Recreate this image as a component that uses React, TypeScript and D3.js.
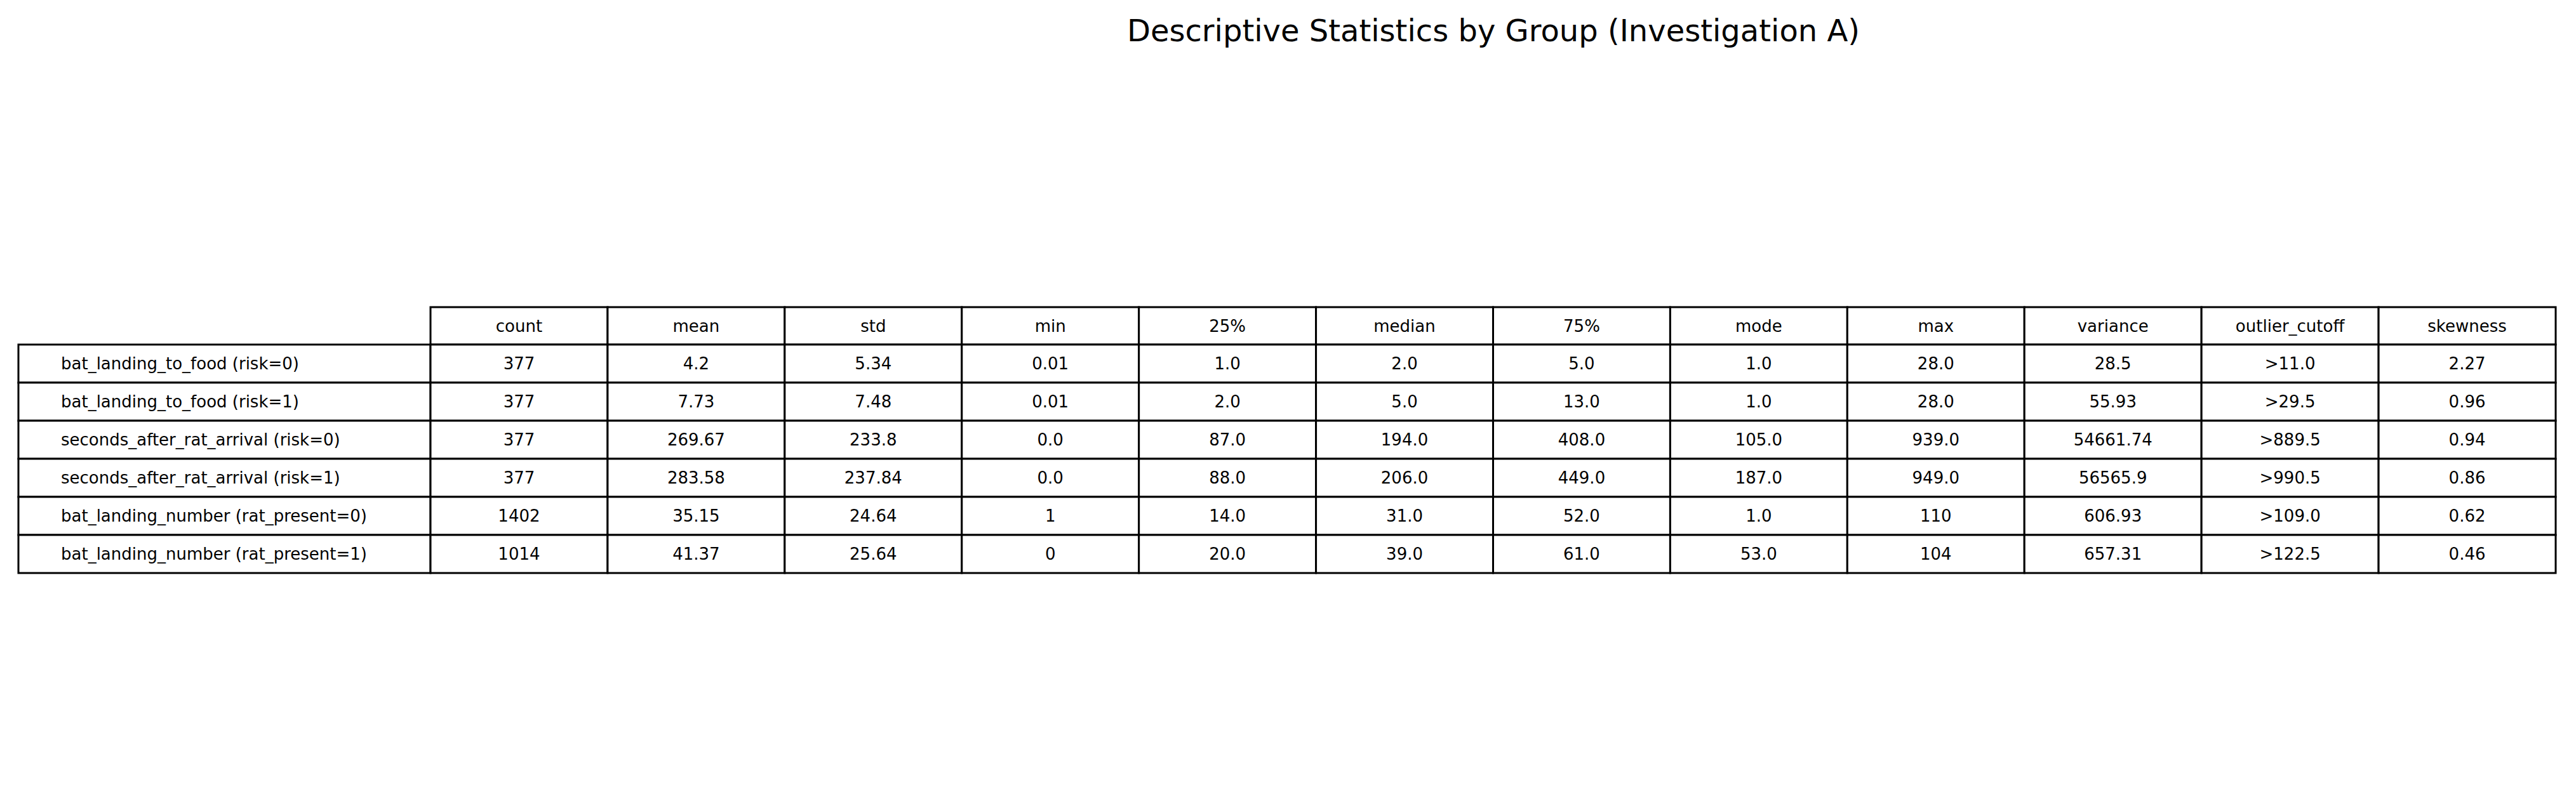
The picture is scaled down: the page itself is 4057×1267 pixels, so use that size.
import React from "react";
import * as d3 from "d3";

const columns = ["count","mean","std","min","25%","median","75%","mode","max","variance","outlier_cutoff","skewness"];
const rowLabels = [
  "bat_landing_to_food (risk=0)",
  "bat_landing_to_food (risk=1)",
  "seconds_after_rat_arrival (risk=0)",
  "seconds_after_rat_arrival (risk=1)",
  "bat_landing_number (rat_present=0)",
  "bat_landing_number (rat_present=1)",
];
const row0 = ["377","4.2","5.34","0.01","1.0","2.0","5.0","1.0","28.0","28.5",">11.0","2.27"];
const row1 = ["377","7.73","7.48","0.01","2.0","5.0","13.0","1.0","28.0","55.93",">29.5","0.96"];
const row2 = ["377","269.67","233.8","0.0","87.0","194.0","408.0","105.0","939.0","54661.74",">889.5","0.94"];
const row3 = ["377","283.58","237.84","0.0","88.0","206.0","449.0","187.0","949.0","56565.9",">990.5","0.86"];
const row4 = ["1402","35.15","24.64","1","14.0","31.0","52.0","1.0","110","606.93",">109.0","0.62"];
const row5 = ["1014","41.37","25.64","0","20.0","39.0","61.0","53.0","104","657.31",">122.5","0.46"];
const cells = [row0,row1,row2,row3,row4,row5];

const W = 4057, H = 1267;
const labelX0 = 29, colX0 = 678, colX1 = 4025;
const headerTop = 484, rowTop = 543, rowBottom = 903;

export default function App() {
  const x = d3.scaleBand<number>().domain(d3.range(columns.length)).range([colX0, colX1]);
  const y = d3.scaleBand<number>().domain(d3.range(rowLabels.length)).range([rowTop, rowBottom]);
  const hh = rowTop - headerTop;
  const font = "DejaVu Sans, sans-serif";
  const fs = 26;
  const sw = 3;
  return (
    <svg width={W} height={H} style={{ position: "absolute", left: 0, top: 0, background: "#fff" }} fontFamily={font}>
      <rect width={W} height={H} fill="#fff" />
      <text x={2352} y={65} textAnchor="middle" fontSize={48}>Descriptive Statistics by Group (Investigation A)</text>
      {columns.map((c, j) => (
        <g key={c}>
          <rect x={x(j)} y={headerTop} width={x.bandwidth()} height={hh} fill="#fff" stroke="#000" strokeWidth={sw} />
          <text x={x(j)! + x.bandwidth() / 2} y={headerTop + hh / 2} dy="0.35em" textAnchor="middle" fontSize={fs}>{c}</text>
        </g>
      ))}
      {rowLabels.map((r, i) => (
        <g key={r}>
          <rect x={labelX0} y={y(i)} width={colX0 - labelX0} height={y.bandwidth()} fill="#fff" stroke="#000" strokeWidth={sw} />
          <text x={96} y={y(i)! + y.bandwidth() / 2} dy="0.35em" fontSize={fs}>{r}</text>
          {cells[i].map((v, j) => (
            <g key={j}>
              <rect x={x(j)} y={y(i)} width={x.bandwidth()} height={y.bandwidth()} fill="#fff" stroke="#000" strokeWidth={sw} />
              <text x={x(j)! + x.bandwidth() / 2} y={y(i)! + y.bandwidth() / 2} dy="0.35em" textAnchor="middle" fontSize={fs}>{v}</text>
            </g>
          ))}
        </g>
      ))}
    </svg>
  );
}
